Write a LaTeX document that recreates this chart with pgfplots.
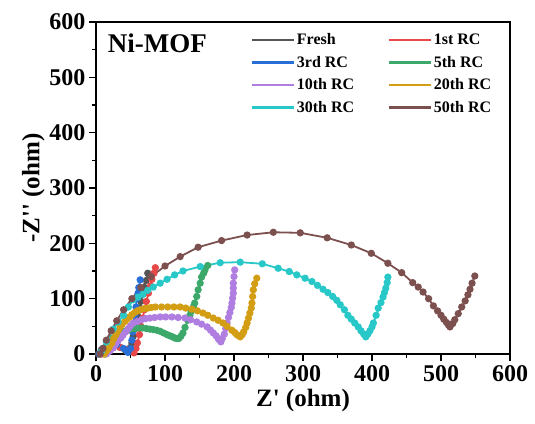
\documentclass[border=0pt]{standalone}
\usepackage{pgfplots}
\pgfplotsset{compat=1.18}
\usepackage{fontspec}
\setmainfont{Liberation Serif}
\newfontfamily\tnr{Liberation Serif}
\definecolor{cFresh}{RGB}{85,85,85}
\definecolor{cFirst}{RGB}{232,72,72}
\definecolor{cThird}{RGB}{40,110,215}
\definecolor{cFifth}{RGB}{60,168,105}
\definecolor{cTenth}{RGB}{176,125,224}
\definecolor{cTwent}{RGB}{212,158,20}
\definecolor{cThirt}{RGB}{40,200,200}
\definecolor{cFift}{RGB}{125,80,80}
\begin{document}
\begin{tikzpicture}
\begin{axis}[
  scale only axis, width=414pt, height=332pt,
  xmin=0, xmax=600, ymin=0, ymax=600,
  xtick={0,100,...,600}, ytick={0,100,...,600},
  minor x tick num=1, minor y tick num=1,
  tick align=outside, xtick pos=left, ytick pos=left,
  axis line style={line width=1.8pt},
  major tick length=7pt, minor tick length=4pt,
  every tick/.style={line width=1.5pt, black},
  /pgf/number format/assume math mode=true,
  tick label style={font=\fontsize{24}{24}\selectfont\bfseries},
  xticklabel style={yshift=-1pt},
  xlabel={\tnr\bfseries Z' (ohm)},
  ylabel={\tnr\bfseries -Z'' (ohm)},
  label style={font=\fontsize{25}{25}\selectfont},
  xlabel style={yshift=-1pt},
  ylabel style={yshift=-2pt},
  legend columns=2,
  legend cell align=left,
  legend style={draw=none, fill=none, at={(rel axis cs:0.365,0.978)}, anchor=north west,
    font=\fontsize{16}{16}\selectfont\bfseries,
    /tikz/every even column/.append style={column sep=31pt},
    row sep=6pt},
  legend image code/.code={\draw[#1, line width=2.6pt] (0pt,0pt) -- (42pt,0pt);},
  every axis plot/.append style={line width=1.8pt, mark=*, mark size=2.7pt},
]
% Fresh
\addplot[cFresh, mark options={fill=cFresh}] coordinates {
(3,0)(8,8)(15,13)(25,15)(35,12)(43,6)(48,4)(50,12)(52,20)(54,32)(56,45)(58,58)(60,70)(63,83)(65,95)(68,108)(70,120)(73,133)(75,146)};
\addlegendentry{Fresh}
% 1st
\addplot[cFirst, mark options={fill=cFirst}] coordinates {
(8,0)(15,8)(25,12)(35,12)(45,8)(55,2)(58,10)(60,20)(63,35)(65,50)(68,65)(70,80)(73,95)(76,110)(79,123)(81,135)(84,146)(86,156)};
\addlegendentry{1st RC}
% 3rd
\addplot[cThird, mark options={fill=cThird}] coordinates {
(5,0)(10,10)(20,17)(30,17)(40,10)(46,3)(50,10)(52,25)(53,40)(55,55)(56,70)(58,85)(59,100)(61,110)(62,120)(64,134)};
\addlegendentry{3rd RC}
% 5th
\addplot[cFifth, mark options={fill=cFifth}] coordinates {
(12,0)(15,8)(18,15)(21,22)(25,29)(30,34)(35,38)(40,41)(45,43)(50,45)(56,46)(62,47)(67,47)(73,46)(78,45)(83,44)(88,43)(93,41)(98,38)(103,35)(107,33)(111,31)(114,29)(117,28)(120,28)(123,32)(126,38)(129,48)(133,61)(136,70)(138,77)(141,85)(143,92)(146,104)(148,116)(151,128)(153,139)(156,146)(158,152)(162,160)};
\addlegendentry{5th RC}
% 10th
\addplot[cTenth, mark options={fill=cTenth}] coordinates {
(15,0)(20,5)(25,11)(28,17)(32,24)(36,29)(39,34)(43,40)(47,46)(50,51)(54,56)(60,59)(66,62)(72,64)(78,65)(85,66)(93,67)(101,67)(110,67)(119,66)(129,65)(137,62)(146,58)(153,54)(161,49)(166,43)(170,38)(174,33)(177,28)(179,25)(181,22)(183,28)(186,36)(188,46)(190,56)(192,66)(194,75)(196,84)(197,92)(198,101)(199,110)(199,119)(199,128)(200,140)(201,152)};
\addlegendentry{10th RC}
% 20th
\addplot[cTwent, mark options={fill=cTwent}] coordinates {
(12,0)(15,5)(18,10)(20,15)(23,20)(26,28)(29,35)(32,42)(35,49)(38,54)(42,59)(45,63)(49,67)(52,71)(56,75)(60,78)(64,80)(70,82)(75,83)(80,84)(86,85)(95,85)(104,85)(113,85)(122,85)(130,83)(139,81)(147,78)(155,74)(162,70)(170,65)(177,61)(184,56)(190,50)(197,43)(201,39)(204,35)(207,33)(209,31)(212,35)(214,40)(217,48)(219,56)(221,65)(223,74)(225,83)(226,92)(227,104)(228,116)(230,127)(233,137)};
\addlegendentry{20th RC}
% 30th
\addplot[cThirt, mark options={fill=cThirt}] coordinates {
(8,5)(15,22)(25,45)(32,58)(40,70)(47,85)(54,98)(61,103)(68,108)(75,115)(83,121)(93,128)(103,135)(114,143)(126,150)(151,158)(180,165)(209,166)(241,163)(264,155)(280,149)(291,143)(303,137)(313,131)(321,124)(329,117)(336,111)(343,104)(349,97)(354,89)(360,80)(365,70)(370,63)(375,56)(380,49)(384,42)(388,36)(391,31)(394,36)(397,42)(400,49)(402,56)(406,70)(409,83)(413,93)(416,103)(418,111)(420,119)(422,129)(423,139)};
\addlegendentry{30th RC}
% 50th
\addplot[cFift, mark options={fill=cFift}] coordinates {
(6,0)(10,10)(15,25)(22,42)(30,60)(40,80)(52,100)(65,120)(80,140)(100,159)(122,176)(148,193)(182,205)(219,215)(257,220)(296,219)(335,210)(370,197)(399,182)(423,164)(443,147)(459,129)(467,121)(474,112)(482,100)(489,87)(495,78)(500,70)(504,63)(508,57)(511,52)(513,49)(517,55)(520,62)(525,73)(530,85)(535,96)(539,107)(542,117)(545,128)(549,141)};
\addlegendentry{50th RC}
\node[anchor=north west, font=\fontsize{27}{27}\selectfont\bfseries] at (rel axis cs:0.02,0.975) {Ni-MOF};
\end{axis}
\path ([xshift=-96pt,yshift=-69pt]current axis.south west) rectangle ([xshift=25pt,yshift=22pt]current axis.north east);
\end{tikzpicture}
\end{document}
